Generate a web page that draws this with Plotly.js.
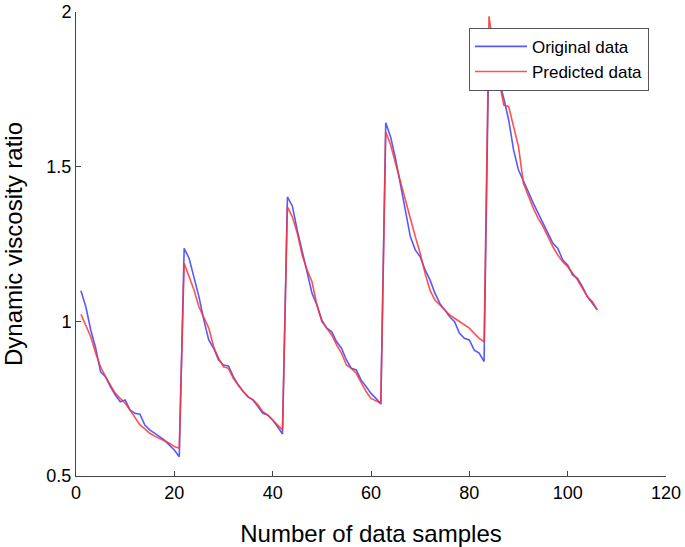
<!DOCTYPE html>
<html>
<head>
<meta charset="utf-8">
<script src="https://cdn.plot.ly/plotly-3.0.1.min.js"></script>
<style>html,body{margin:0;padding:0;background:#fff;}#chart{width:685px;height:547px;}</style>
</head>
<body>
<div id="chart"></div>
<script>
// Sample index starts at 1, step 1
const firstSample = 1;

const originalData = [
  1.099,1.047,0.972,0.914,0.837,0.821,0.789,0.762,0.740,0.746,0.713,0.703,0.700,0.665,0.649,0.638,0.629,0.616,0.600,0.584,0.562,
  1.236,1.204,1.144,1.080,1.004,0.940,0.913,0.875,0.859,0.856,0.821,0.794,0.773,0.756,0.746,0.724,0.703,0.697,0.681,0.659,0.636,
  1.402,1.373,1.295,1.225,1.161,1.091,1.053,1.004,0.978,0.967,0.934,0.913,0.875,0.848,0.843,0.810,0.789,0.767,0.751,0.733,
  1.642,1.595,1.525,1.445,1.360,1.274,1.231,1.209,1.166,1.134,1.091,1.058,1.037,1.015,0.999,0.961,0.945,0.940,0.907,0.897,0.870,
  1.930,1.840,1.780,1.721,1.651,1.554,1.489,1.451,1.419,1.382,1.349,1.317,1.285,1.252,1.236,1.198,1.182,1.150,1.139,1.112,1.080,1.058,1.037
];

const predictedData = [
  1.023,0.988,0.950,0.897,0.853,0.821,0.794,0.767,0.751,0.735,0.713,0.687,0.665,0.652,0.638,0.629,0.622,0.614,0.606,0.595,0.590,
  1.188,1.144,1.101,1.047,1.010,0.978,0.918,0.881,0.853,0.848,0.816,0.794,0.773,0.756,0.746,0.730,0.708,0.697,0.681,0.665,0.649,
  1.370,1.338,1.285,1.214,1.166,1.128,1.053,0.999,0.978,0.956,0.924,0.897,0.859,0.848,0.832,0.800,0.773,0.751,0.743,0.735,
  1.612,1.570,1.510,1.450,1.390,1.328,1.274,1.220,1.155,1.101,1.069,1.053,1.037,1.021,1.010,0.999,0.988,0.978,0.961,0.945,0.934,
  1.986,1.870,1.786,1.699,1.694,1.629,1.565,1.446,1.403,1.366,1.333,1.306,1.274,1.241,1.214,1.193,1.177,1.155,1.134,1.107,1.080,1.064,1.037
];

const xTicks = [0, 20, 40, 60, 80, 100, 120];
const yTicks = [0.5, 1, 1.5, 2];
const yTickLabels = ['0.5', '1', '1.5', '2'];

const traces = [
  {y: originalData, x0: firstSample, dx: 1, type: 'scatter', mode: 'lines', name: 'Original data',
   line: {color: 'rgba(60,60,255,0.85)', width: 1.6}},
  {y: predictedData, x0: firstSample, dx: 1, type: 'scatter', mode: 'lines', name: 'Predicted data',
   line: {color: 'rgba(255,50,50,0.85)', width: 1.6}}
];

const layout = {
  width: 685, height: 547,
  margin: {l: 76, r: 19, t: 12, b: 71},
  paper_bgcolor: '#fff', plot_bgcolor: '#fff',
  font: {family: 'Liberation Sans, Arial, sans-serif', color: '#000', size: 18},
  showlegend: true,
  legend: {x: 0.666, y: 0.966, xanchor: 'left', yanchor: 'top', bgcolor: '#fff',
           bordercolor: '#555', borderwidth: 1, font: {size: 17, color: '#000'},
           tracegroupgap: 0, itemwidth: 52},
  xaxis: {range: [0, 120], tickvals: xTicks, ticktext: xTicks.map(String), ticks: 'inside', ticklen: 5,
          tickcolor: '#444', showline: true, linecolor: '#444', linewidth: 1, showgrid: false, zeroline: false,
          tickfont: {size: 18}, title: {text: 'Number of data samples', font: {size: 24}, standoff: 24}},
  yaxis: {range: [0.5, 2], tickvals: yTicks, ticktext: yTickLabels, ticks: 'inside', ticklen: 5,
          tickcolor: '#444', showline: true, linecolor: '#444', linewidth: 1, showgrid: false, zeroline: false,
          tickfont: {size: 18}, title: {text: 'Dynamic viscosity ratio', font: {size: 24}, standoff: 18}}
};

Plotly.newPlot('chart', traces, layout, {displayModeBar: false, staticPlot: true});
</script>
</body>
</html>
